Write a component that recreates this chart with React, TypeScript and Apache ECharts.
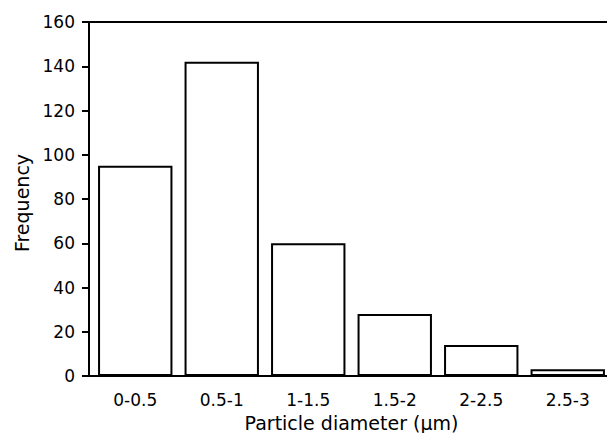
import React, { useEffect, useRef } from "react";
import * as echarts from "echarts";

const categories: string[] = ["0-0.5", "0.5-1", "1-1.5", "1.5-2", "2-2.5", "2.5-3"];
const frequency: number[] = [95, 142, 60, 28, 14, 3];
const yTicks = { min: 0, max: 160, interval: 20 };

const GRID = { left: 92, right: -4, top: 22, bottom: 57 };
const AXIS_X = 89;

export default function App() {
  const ref = useRef<HTMLDivElement>(null);
  useEffect(() => {
    document.body.style.margin = "0";
    document.body.style.overflow = "hidden";
    if (!ref.current) return;
    const chart = echarts.init(ref.current, null, { renderer: "svg" });
    const font = "DejaVu Sans";
    const H = 433;
    const bottomY = H - GRID.bottom;
    chart.setOption({
      animation: false,
      backgroundColor: "#ffffff",
      grid: { ...GRID, containLabel: false, outerBoundsMode: "none" },
      xAxis: [
        {
          type: "category",
          data: categories,
          position: "bottom",
          axisLine: { show: true, lineStyle: { color: "#000", width: 2 } },
          axisTick: { show: false },
          axisLabel: { color: "#000", fontSize: 17, fontFamily: font, margin: 15 },
          name: "Particle diameter (μm)",
          nameLocation: "middle",
          nameGap: 37,
          nameTextStyle: { color: "#000", fontSize: 19, fontFamily: font },
        },
        {
          type: "category",
          data: categories,
          position: "top",
          axisLine: { show: true, lineStyle: { color: "#000", width: 2 } },
          axisTick: { show: false },
          axisLabel: { show: false },
        },
      ],
      yAxis: {
        type: "value",
        min: yTicks.min,
        max: yTicks.max,
        interval: yTicks.interval,
        offset: GRID.left - AXIS_X,
        axisLine: { show: true, lineStyle: { color: "#000", width: 2 } },
        axisTick: { show: true, length: 7, inside: false, lineStyle: { color: "#000", width: 2 } },
        splitLine: { show: false },
        axisLabel: { color: "#000", fontSize: 17, fontFamily: font, margin: 14 },
        name: "Frequency",
        nameLocation: "middle",
        nameGap: 56,
        nameTextStyle: { color: "#000", fontSize: 19, fontFamily: font, padding: [0, 8, 0, 0] },
      },
      graphic: [
        {
          type: "line",
          shape: { x1: AXIS_X - 1, y1: bottomY, x2: GRID.left + 1, y2: bottomY },
          style: { stroke: "#000", lineWidth: 2 },
        },
        {
          type: "line",
          shape: { x1: AXIS_X - 1, y1: GRID.top, x2: GRID.left + 1, y2: GRID.top },
          style: { stroke: "#000", lineWidth: 2 },
        },
      ],
      series: [
        {
          type: "bar",
          data: frequency,
          xAxisIndex: 0,
          barCategoryGap: "14%",
          itemStyle: { color: "#ffffff", borderColor: "#000", borderWidth: 2 },
        },
      ],
    });
    return () => chart.dispose();
  }, []);
  return (
    <div
      ref={ref}
      style={{ width: 607, height: 433, overflow: "hidden" }}
    />
  );
}
